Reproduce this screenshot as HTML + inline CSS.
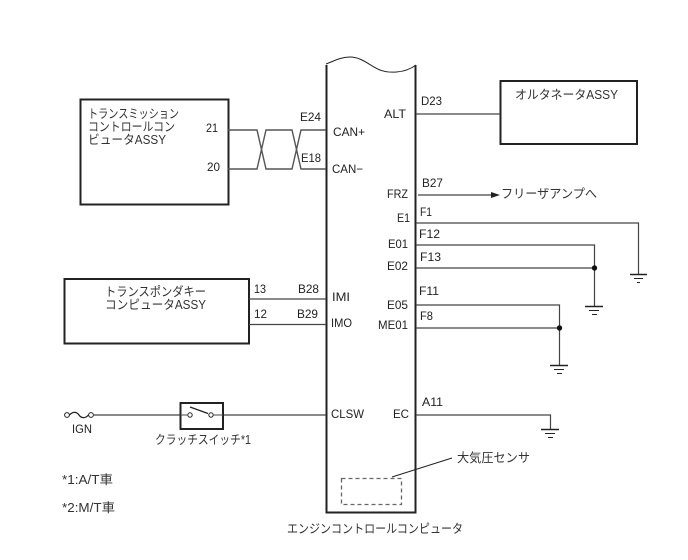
<!DOCTYPE html>
<html>
<head>
<meta charset="utf-8">
<style>
html,body{margin:0;padding:0;background:#fff;width:688px;height:560px;overflow:hidden}
svg{display:block}
text{font-family:"Liberation Sans","Noto Sans CJK JP",sans-serif;font-size:12px;fill:#222}
.j{font-size:12.5px;fill:#333}
</style>
</head>
<body>
<svg width="688" height="560" viewBox="0 0 688 560" xmlns="http://www.w3.org/2000/svg">
<rect width="688" height="560" fill="#fff"/>
<g fill="none" stroke="#222">
<!-- main ECU -->
<path d="M326.5 65V512.5H415.5V65" stroke-width="2"/>
<path d="M326 64C334 61 341 57 350 57C362 57 370 66 380 70C388 73 404 74 416 65" stroke-width="1"/>
<!-- boxes -->
<rect x="80.5" y="99.5" width="148" height="105" stroke-width="2"/>
<rect x="64.5" y="279" width="184.500" height="64.500" stroke-width="2"/>
<rect x="500.5" y="81" width="136.500" height="63" stroke-width="2"/>
<!-- twisted pair -->
<path d="M228 130H257L266 169H292L301 130H326" stroke="#555" stroke-width="1.400"/>
<path d="M228 169H257L266 130H292L301 169H326" stroke="#555" stroke-width="1.400"/>
<!-- wires -->
<g stroke="#444" stroke-width="1.200">
<path d="M249 299H326"/>
<path d="M249 324.500H326"/>
<path d="M416 114H500"/>
<path d="M418 195H494"/>
<path d="M416 223H638.500V274"/>
<path d="M416 245H594.500V306"/>
<path d="M416 268H594"/>
<path d="M416 305H559.500V365"/>
<path d="M416 328H559"/>
<path d="M416 415H550.500V429"/>
<path d="M94 415H180"/>
<path d="M223 415H326"/>
</g>
<!-- grounds -->
<g stroke="#222">
<path d="M630 274.500H647" stroke-width="1.500"/><path d="M634 278.500H643M637 282.500H640"/>
<path d="M585 306.500H603" stroke-width="1.500"/><path d="M589 310.500H599M592 314.500H597"/>
<path d="M550 365.500H568" stroke-width="1.500"/><path d="M554 369.500H564M557 373.500H562"/>
<path d="M541 429.500H559" stroke-width="1.500"/><path d="M545 433.500H555M548 437.500H553"/>
</g>
<!-- switch -->
<rect x="180.500" y="403" width="42.500" height="26" stroke-width="2" fill="#fff"/>
<circle cx="190" cy="415" r="2.200" fill="#fff"/>
<circle cx="211" cy="415" r="2.200" fill="#fff"/>
<path d="M190 407L208 413.500" stroke-width="1.300"/>
<path d="M180 415H188M213 415H223" stroke="#444"/>
<!-- fuse -->
<circle cx="67" cy="415" r="2.400"/>
<circle cx="91" cy="415" r="2.400"/>
<path d="M69.500 415C73 411 77 412 79 415C81 418 85 419 88.500 415" stroke-width="1.300"/>
<!-- sensor -->
<rect x="341.500" y="478.500" width="60" height="26" stroke="#666" stroke-width="1.300" stroke-dasharray="4 3"/>
<path d="M392 477L452 458" stroke-width="1"/>
</g>
<path d="M491 192L500 195L491 198Z" fill="#222"/>
<circle cx="594.500" cy="268" r="2.700" fill="#111"/>
<circle cx="559.500" cy="328" r="2.700" fill="#111"/>

<!-- labels -->
<text class="j" x="88" y="118" textLength="91" lengthAdjust="spacingAndGlyphs">トランスミッション</text>
<text class="j" x="88" y="131" textLength="87" lengthAdjust="spacingAndGlyphs">コントロールコン</text>
<text class="j" x="88" y="144" textLength="78" lengthAdjust="spacingAndGlyphs">ビュータASSY</text>
<text x="206" y="132" textLength="12" lengthAdjust="spacingAndGlyphs">21</text>
<text x="207" y="171" textLength="13" lengthAdjust="spacingAndGlyphs">20</text>
<text x="300" y="121" textLength="21" lengthAdjust="spacingAndGlyphs">E24</text>
<text x="301" y="162" textLength="20" lengthAdjust="spacingAndGlyphs">E18</text>
<text x="333" y="136" textLength="32" lengthAdjust="spacingAndGlyphs">CAN+</text>
<text x="332" y="173" textLength="31" lengthAdjust="spacingAndGlyphs">CAN−</text>

<text class="j" x="105" y="296" textLength="101" lengthAdjust="spacingAndGlyphs">トランスポンダキー</text>
<text class="j" x="105" y="309" textLength="101" lengthAdjust="spacingAndGlyphs">コンピュータASSY</text>
<text x="254" y="293" textLength="12" lengthAdjust="spacingAndGlyphs">13</text>
<text x="254" y="318" textLength="13" lengthAdjust="spacingAndGlyphs">12</text>
<text x="298" y="293" textLength="21" lengthAdjust="spacingAndGlyphs">B28</text>
<text x="297" y="318" textLength="21" lengthAdjust="spacingAndGlyphs">B29</text>
<text x="332" y="301" textLength="18" lengthAdjust="spacingAndGlyphs">IMI</text>
<text x="331" y="327" textLength="21" lengthAdjust="spacingAndGlyphs">IMO</text>

<text x="72" y="433" textLength="20" lengthAdjust="spacingAndGlyphs">IGN</text>
<text class="j" x="155" y="444" textLength="96" lengthAdjust="spacingAndGlyphs">クラッチスイッチ*1</text>
<text x="331" y="418" textLength="33" lengthAdjust="spacingAndGlyphs">CLSW</text>
<text class="j" x="62" y="484" textLength="51" lengthAdjust="spacingAndGlyphs">*1:A/T車</text>
<text class="j" x="62" y="512" textLength="53" lengthAdjust="spacingAndGlyphs">*2:M/T車</text>

<text x="384" y="118" textLength="22" lengthAdjust="spacingAndGlyphs">ALT</text>
<text x="421" y="105" textLength="21" lengthAdjust="spacingAndGlyphs">D23</text>
<text class="j" x="515" y="99" textLength="103" lengthAdjust="spacingAndGlyphs">オルタネータASSY</text>
<text x="387" y="198" textLength="21" lengthAdjust="spacingAndGlyphs">FRZ</text>
<text x="422" y="187" textLength="21" lengthAdjust="spacingAndGlyphs">B27</text>
<text class="j" x="501" y="198" textLength="96" lengthAdjust="spacingAndGlyphs">フリーザアンプへ</text>
<text x="397" y="222" textLength="13" lengthAdjust="spacingAndGlyphs">E1</text>
<text x="420" y="216" textLength="12" lengthAdjust="spacingAndGlyphs">F1</text>
<text x="419" y="238" textLength="21" lengthAdjust="spacingAndGlyphs">F12</text>
<text x="388" y="248" textLength="20" lengthAdjust="spacingAndGlyphs">E01</text>
<text x="420" y="261" textLength="21" lengthAdjust="spacingAndGlyphs">F13</text>
<text x="387" y="270" textLength="21" lengthAdjust="spacingAndGlyphs">E02</text>
<text x="419" y="295" textLength="20" lengthAdjust="spacingAndGlyphs">F11</text>
<text x="387" y="309" textLength="21" lengthAdjust="spacingAndGlyphs">E05</text>
<text x="420" y="320" textLength="13" lengthAdjust="spacingAndGlyphs">F8</text>
<text x="378" y="329" textLength="30" lengthAdjust="spacingAndGlyphs">ME01</text>
<text x="422" y="406" textLength="21" lengthAdjust="spacingAndGlyphs">A11</text>
<text x="393" y="418" textLength="16" lengthAdjust="spacingAndGlyphs">EC</text>
<text class="j" x="457" y="462" textLength="73" lengthAdjust="spacingAndGlyphs">大気圧センサ</text>
<text class="j" x="287" y="533" textLength="176" lengthAdjust="spacingAndGlyphs">エンジンコントロールコンピュータ</text>
</svg>
</body>
</html>
